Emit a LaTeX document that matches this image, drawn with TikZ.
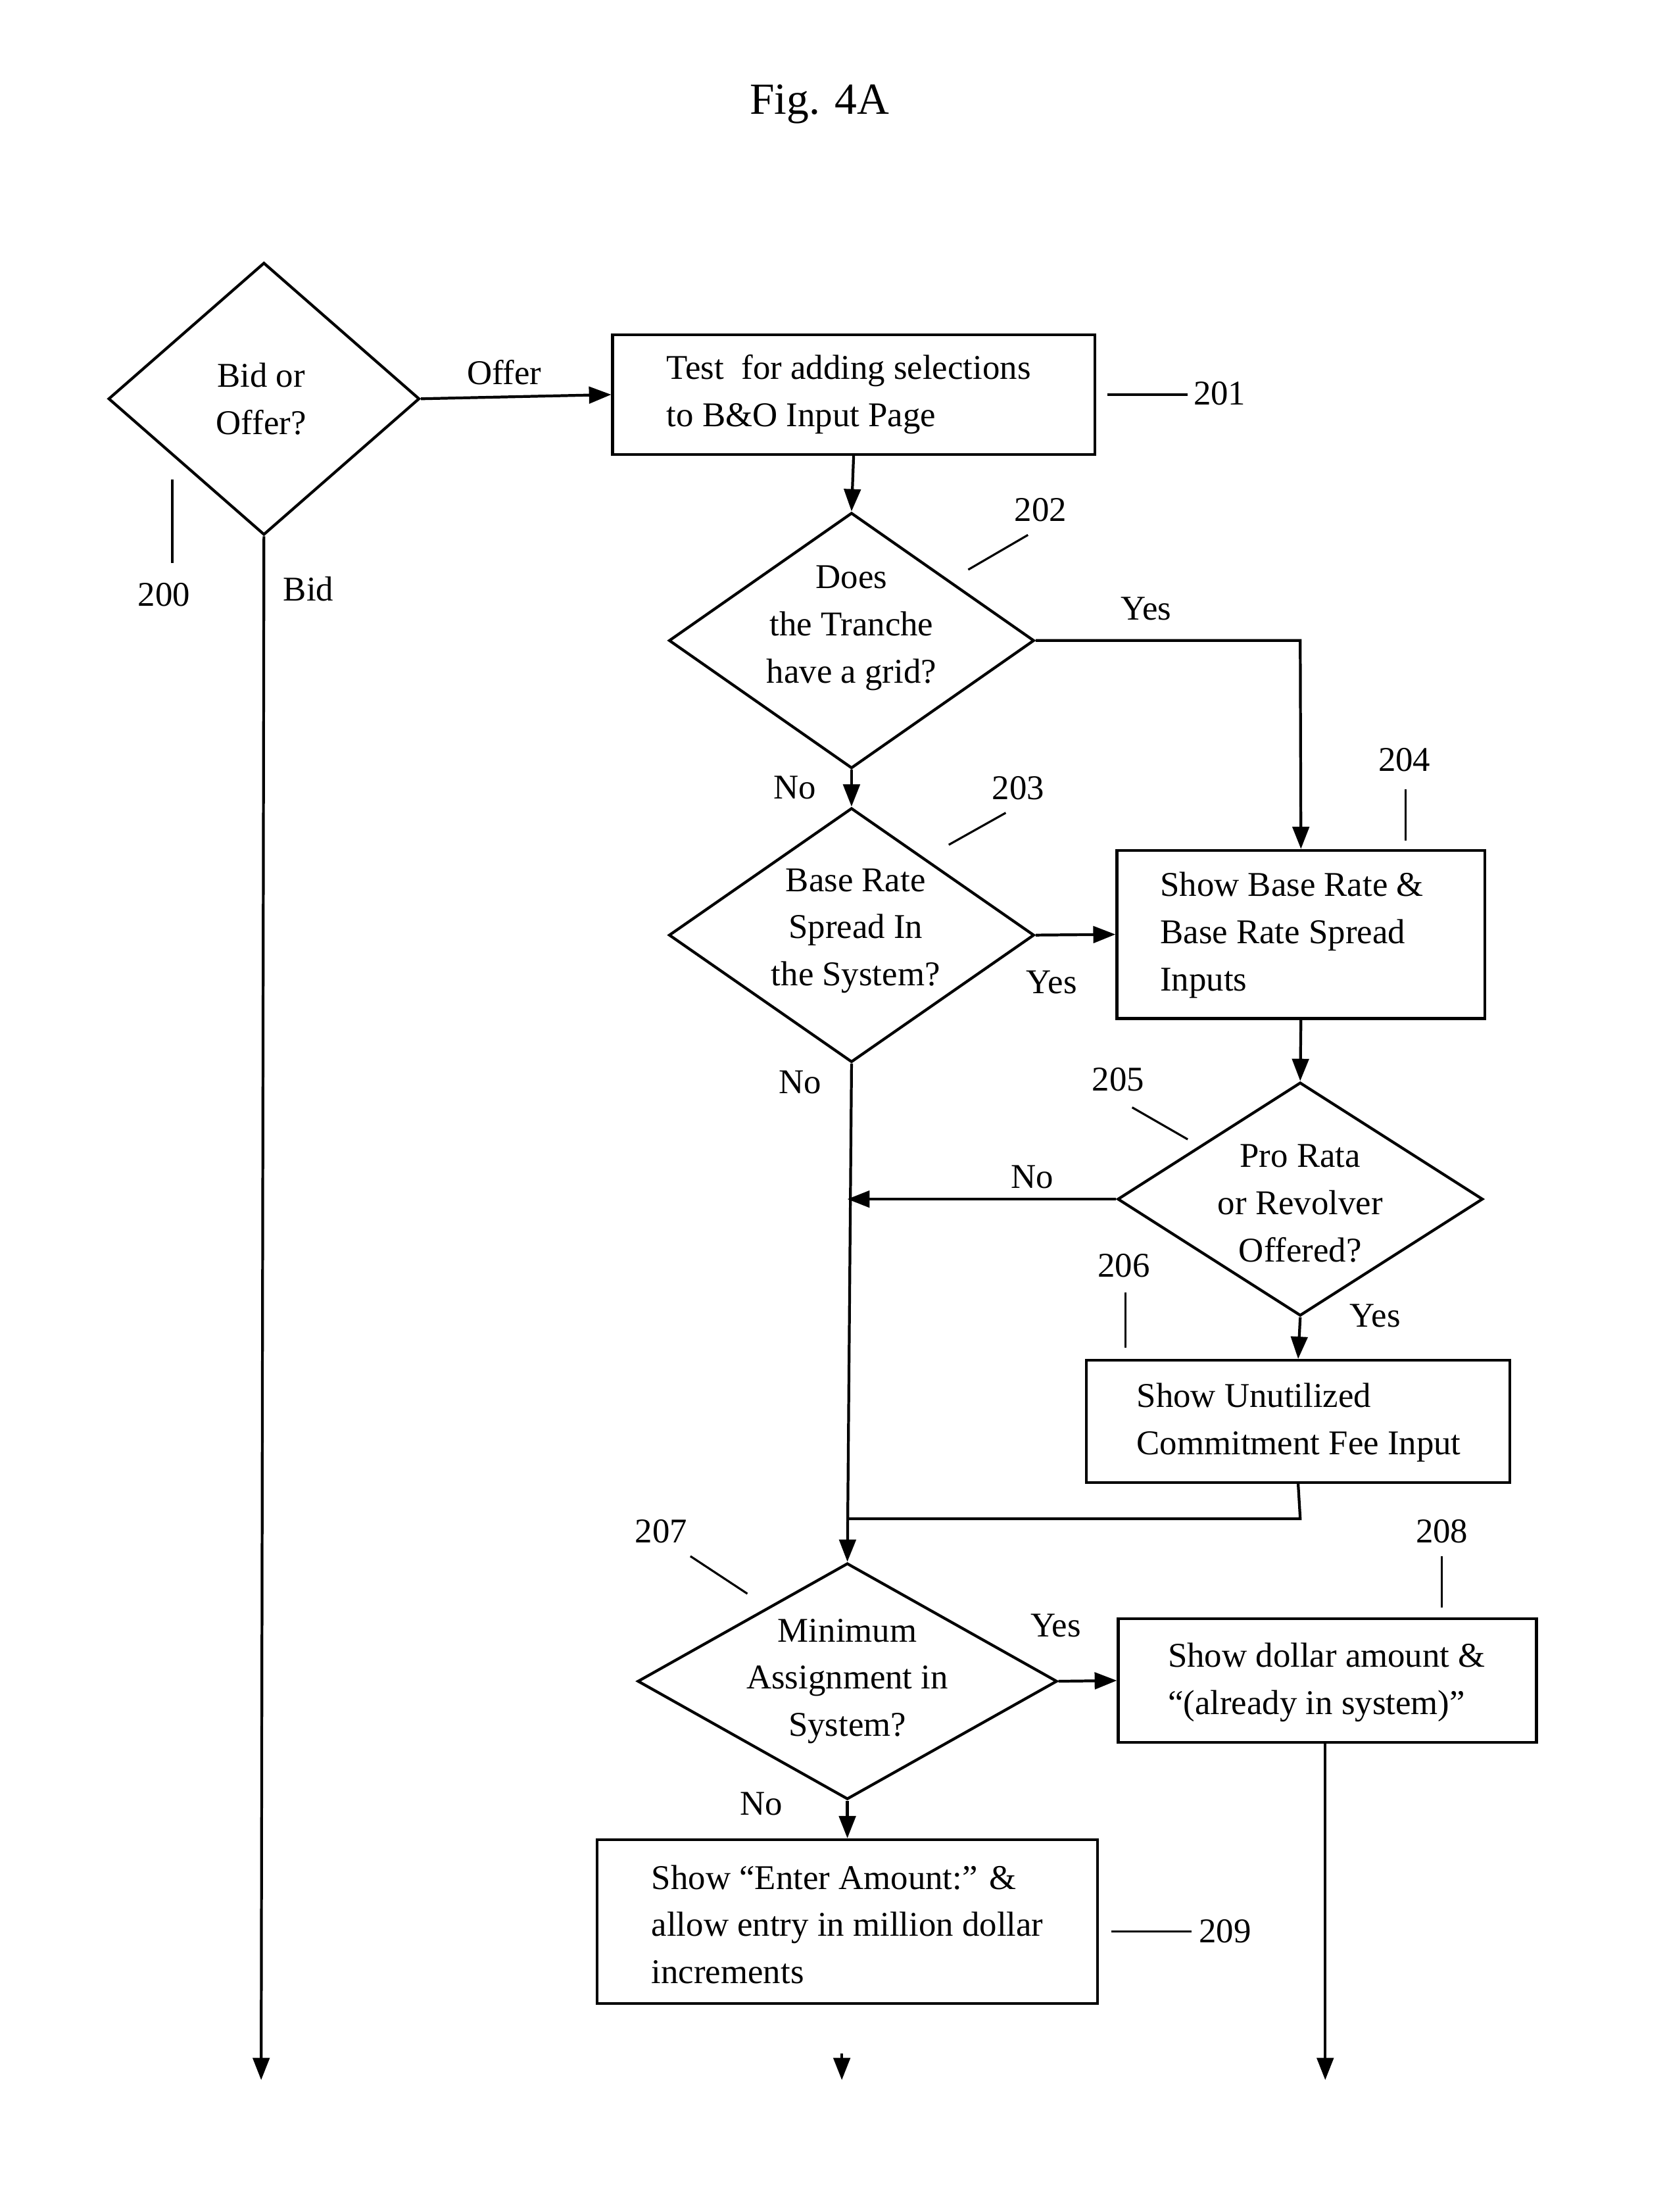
\documentclass[tikz,border=0pt]{standalone}
\usepackage{fontspec}
\setmainfont{Liberation Serif}
\usetikzlibrary{shapes.geometric,arrows.meta}
\begin{document}
\begin{tikzpicture}[x=1pt,y=-1pt,
  line width=2pt,
  every node/.style={font=\fontsize{25}{34}\selectfont},
  box/.style={draw,rectangle,inner sep=0pt},
  dia/.style={draw,diamond,inner sep=0pt},
  txt/.style={align=left,inner sep=0pt},
  ctxt/.style={align=center,inner sep=0pt},
  arr/.style={-{Triangle[length=16pt,width=12pt]}},
  lead/.style={line width=1.5pt}]
\useasboundingbox (0,0) rectangle (1200,1592);
\node at (590,75) {\fontsize{32}{38}\selectfont Fig. 4A};
% shapes
\node[dia,minimum width=224,minimum height=196] (d200) at (190,287) {};
\node[ctxt] at (188,287) {Bid or\\Offer?};
\node[box,minimum width=347,minimum height=86] (b201) at (614.5,284) {};
\node[txt] at (611,284) {Test\ \ for adding selections\\to B\&O Input Page};
\node[dia,minimum width=263,minimum height=184] (d202) at (613,461) {};
\node[ctxt] at (613,452) {Does\\the Tranche\\have a grid?};
\node[dia,minimum width=263,minimum height=183] (d203) at (613,673) {};
\node[ctxt] at (616,670) {Base Rate\\Spread In\\the System?};
\node[box,minimum width=265,minimum height=121] (b204) at (936.5,672.5) {};
\node[txt] at (930,673) {Show Base Rate \&\\Base Rate Spread\\Inputs};
\node[dia,minimum width=263,minimum height=168] (d205) at (936,863) {};
\node[ctxt] at (936,866) {Pro Rata\\or Revolver\\Offered?};
\node[box,minimum width=305,minimum height=88] (b206) at (934.5,1023) {};
\node[txt] at (935,1024) {Show Unutilized\\Commitment Fee Input};
\node[dia,minimum width=302,minimum height=170] (d207) at (610,1210) {};
\node[ctxt] at (610,1210) {Minimum\\Assignment in\\System?};
\node[box,minimum width=301,minimum height=89] (b208) at (955.5,1209.5) {};
\node[txt] at (955,1211) {Show dollar amount \&\\``(already in system)''};
\node[box,minimum width=360,minimum height=118] (b209) at (610,1383) {};
\node[txt] at (610,1385) {Show ``Enter Amount:'' \&\\allow entry in million dollar\\increments};
% coordinates
\coordinate (e200) at (188,1497);
\coordinate (c202) at (936,461);
\coordinate (j205) at (610,863);
\coordinate (c206a) at (936,1093);
\coordinate (c206b) at (610,1093);
\coordinate (s209a) at (606,1478);
\coordinate (s209b) at (606,1497);
\coordinate (e208) at (954,1497);
% connectors
\draw[arr] (d200.east) -- (b201.west);
\draw[arr] (d200.south) -- (e200);
\draw[arr] (b201.south) -- (d202.north);
\draw[arr] (d202.east) -- (c202) -- (b204.north);
\draw[arr] (d202.south) -- (d203.north);
\draw[arr] (d203.east) -- (b204.west);
\draw[arr] (d203.south) -- (d207.north);
\draw[arr] (b204.south) -- (d205.north);
\draw[arr] (d205.west) -- (j205);
\draw[arr] (d205.south) -- (b206.north);
\draw (b206.south) -- (c206a) -- (c206b);
\draw[arr] (d207.east) -- (b208.west);
\draw[arr] (d207.south) -- (b209.north);
\draw[arr] (s209a) -- (s209b);
\draw[arr] (b208.south -| e208) -- (e208);
% branch labels
\node at (363,268) {Offer};
\node at (222,424) {Bid};
\node at (825,438) {Yes};
\node at (572,567) {No};
\node at (757,707) {Yes};
\node at (576,779) {No};
\node at (743,847) {No};
\node at (990,947) {Yes};
\node at (760,1170) {Yes};
\node at (548,1298) {No};
% reference numerals
\node at (118,428) {200}; \draw[lead] (124,345) -- (124,405);
\draw[lead] (797,284) -- (855,284); \node at (878,283) {201};
\node at (749,367) {202}; \draw[lead] (697,410) -- (740,385);
\node at (733,567) {203}; \draw[lead] (683,608) -- (724,585);
\node at (1011,547) {204}; \draw[lead] (1012,568) -- (1012,605);
\node at (805,777) {205}; \draw[lead] (815,797) -- (855,820);
\node at (809,911) {206}; \draw[lead] (810,930) -- (810,970);
\node at (476,1102) {207}; \draw[lead] (497,1120) -- (538,1147);
\node at (1038,1102) {208}; \draw[lead] (1038,1120) -- (1038,1157);
\draw[lead] (800,1390) -- (858,1390); \node at (882,1390) {209};
\end{tikzpicture}
\end{document}
